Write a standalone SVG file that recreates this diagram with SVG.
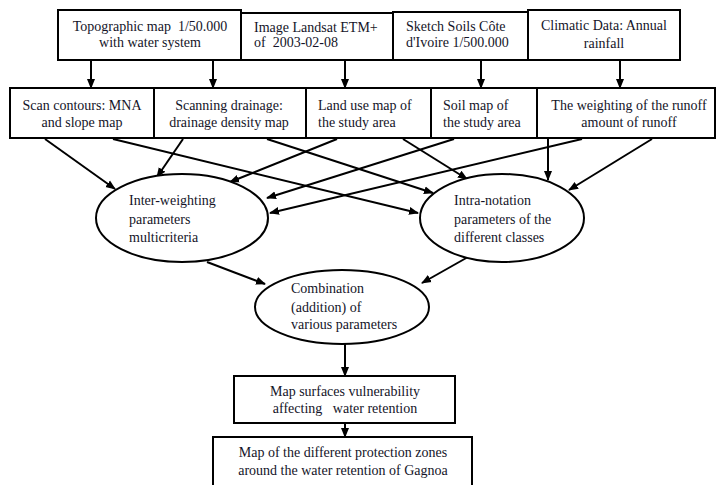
<svg xmlns="http://www.w3.org/2000/svg" width="717" height="485" viewBox="0 0 717 485">
<style>
text{font-family:"Liberation Serif","Times New Roman",serif;font-size:14px;fill:#141428;white-space:pre}
.c{text-anchor:middle}
.b{fill:#fff;stroke:#000;stroke-width:2}
.e{fill:#fff;stroke:#000;stroke-width:2}
.l{stroke:#000;stroke-width:2;fill:none;marker-end:url(#ah)}
</style>
<defs>
<marker id="ah" markerWidth="10" markerHeight="10" refX="9" refY="4" orient="auto" markerUnits="userSpaceOnUse" viewBox="0 0 10 8">
<path d="M0,0 L10,4 L0,8 Z" fill="#000"/>
</marker>
</defs>
<rect width="717" height="485" fill="#fff"/>
<g id="connectors">
<line class="l" x1="91" y1="60" x2="91" y2="88"/>
<line class="l" x1="213" y1="60" x2="213" y2="88"/>
<line class="l" x1="345" y1="60" x2="345" y2="88"/>
<line class="l" x1="481" y1="60" x2="481" y2="88"/>
<line class="l" x1="620" y1="60" x2="620" y2="88"/>
<line class="l" x1="45" y1="139" x2="115" y2="189"/>
<line class="l" x1="183" y1="139" x2="157" y2="177"/>
<line class="l" x1="337" y1="139" x2="230" y2="182"/>
<line class="l" x1="454" y1="139" x2="267" y2="198"/>
<line class="l" x1="582" y1="139" x2="270" y2="213"/>
<line class="l" x1="113" y1="139" x2="418" y2="213"/>
<line class="l" x1="267" y1="139" x2="433" y2="193"/>
<line class="l" x1="403" y1="139" x2="467" y2="179"/>
<line class="l" x1="548" y1="139" x2="548" y2="180"/>
<line class="l" x1="652" y1="139" x2="569" y2="190"/>
<line class="l" x1="207" y1="262" x2="265" y2="284"/>
<line class="l" x1="468" y1="257" x2="422" y2="283"/>
<line class="l" x1="345" y1="343" x2="345" y2="376"/>
<line class="l" x1="345" y1="423" x2="345" y2="437"/>
</g>
<g id="topo">
<rect class="b" x="58" y="10" width="183" height="50"/>
<text class="c" x="150" y="31">Topographic map  1/50.000</text>
<text class="c" x="150" y="47">with water system</text>
</g>
<g id="landsat">
<rect class="b" x="241" y="13" width="152" height="47"/>
<text x="254" y="32">Image Landsat ETM+</text>
<text x="254" y="47">of  2003-02-08</text>
</g>
<g id="sketch">
<rect class="b" x="393" y="12" width="135" height="48"/>
<text x="406" y="31">Sketch Soils Côte</text>
<text x="406" y="47">d'Ivoire 1/500.000</text>
</g>
<g id="climatic">
<rect class="b" x="528" y="10" width="152" height="50"/>
<text class="c" x="604" y="30">Climatic Data: Annual</text>
<text class="c" x="604" y="48">rainfall</text>
</g>
<g id="scan">
<rect class="b" x="10" y="88" width="144" height="50"/>
<text class="c" x="82" y="110">Scan contours: MNA</text>
<text class="c" x="82" y="127">and slope map</text>
</g>
<g id="drainage">
<rect class="b" x="154" y="88" width="152" height="50"/>
<text class="c" x="229" y="110">Scanning drainage:</text>
<text class="c" x="229" y="127">drainage density map</text>
</g>
<g id="landuse">
<rect class="b" x="306" y="88" width="125" height="50"/>
<text x="318" y="110">Land use map of</text>
<text x="318" y="127">the study area</text>
</g>
<g id="soil">
<rect class="b" x="431" y="88" width="106" height="50"/>
<text x="443" y="110">Soil map of</text>
<text x="443" y="127">the study area</text>
</g>
<g id="runoff">
<rect class="b" x="537" y="88" width="178" height="50"/>
<text class="c" x="629" y="110">The weighting of the runoff</text>
<text class="c" x="629" y="127">amount of runoff</text>
</g>
<g id="inter">
<ellipse class="e" cx="182" cy="218" rx="86" ry="44"/>
<text x="129" y="205">Inter-weighting</text>
<text x="129" y="224">parameters</text>
<text x="129" y="242">multicriteria</text>
</g>
<g id="intra">
<ellipse class="e" cx="502" cy="218" rx="82" ry="44"/>
<text x="454" y="205">Intra-notation</text>
<text x="454" y="224">parameters of the</text>
<text x="454" y="242">different classes</text>
</g>
<g id="combination">
<ellipse class="e" cx="342" cy="307" rx="87" ry="37"/>
<text x="291" y="293">Combination</text>
<text x="291" y="312">(addition) of</text>
<text x="291" y="329">various parameters</text>
</g>
<g id="vulnerability">
<rect class="b" x="234" y="376" width="221" height="47"/>
<text class="c" x="345" y="396">Map surfaces vulnerability</text>
<text class="c" x="345" y="413">affecting   water retention</text>
</g>
<g id="protection">
<rect class="b" x="213" y="437" width="259" height="52"/>
<text class="c" x="343" y="457">Map of the different protection zones</text>
<text class="c" x="343" y="475">around the water retention of Gagnoa</text>
</g>
</svg>
